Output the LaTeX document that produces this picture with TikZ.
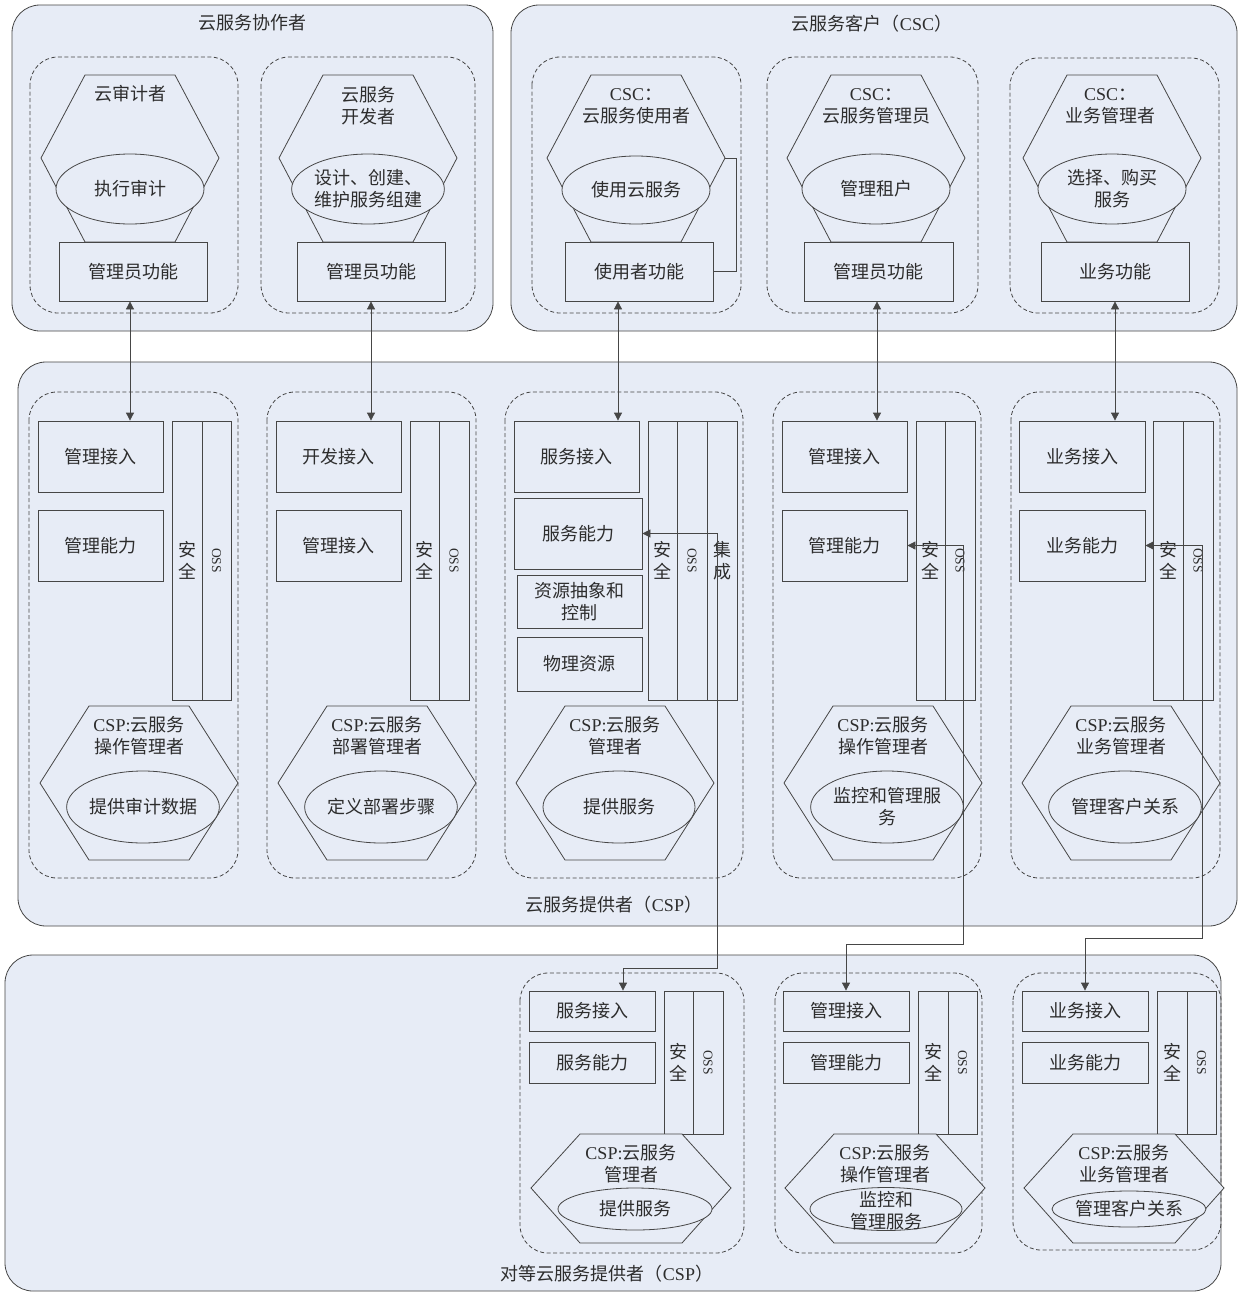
\documentclass[tikz,border=0pt]{standalone}
\usepackage{fontspec}
\setmainfont{Noto Sans CJK SC}
\newfontfamily\latf{Liberation Serif}
\usetikzlibrary{arrows.meta,shapes.geometric,calc}
\definecolor{bgc}{RGB}{231,236,246}
\definecolor{linec}{RGB}{70,70,70}
\definecolor{txtc}{RGB}{45,45,45}
\newcommand\mybox[6]{\node[rbox, minimum width={(#4-#2)*1pt}, minimum height={(#5-#3)*1pt}] (#1) at ({(#2+#4)/2},{(#3+#5)/2}) {#6};}
\newcommand\myhex[6]{\draw[hexs] ({#1-#5},#2) -- ({#1+#5},#2) -- ({#1+#6},#3) -- ({#1+#5},#4) -- ({#1-#5},#4) -- ({#1-#6},#3) -- cycle;}
\newcommand\secbox[8]{%
  \mybox{#1a}{#2}{#5}{#3}{#6}{}%
  \mybox{#1b}{#3}{#5}{#4}{#6}{}%
  \node[txt] (#1at) at (#1a) {安\\全};%
  \node[txt, font=\latf\fontsize{13.5}{15}\selectfont, rotate=-90] (#1bt) at (#1b) {OSS};}
\begin{document}
\begin{tikzpicture}[x=1pt,y=-1pt,
  ln/.style={draw=linec, line width=0.8pt},
  grp/.style={ln, fill=bgc, rounded corners=28pt},
  dbox/.style={ln, dash pattern=on 4pt off 2.5pt, rounded corners=28pt},
  txt/.style={text=txtc, font=\fontsize{18}{22}\selectfont, align=center, inner sep=0pt},
  rbox/.style={ln, fill=bgc, txt, inner sep=0pt},
  hexs/.style={ln, fill=bgc},
  ell/.style={ellipse, ln, fill=bgc, txt, inner sep=0pt},
  dbl/.style={ln, {Triangle[length=8pt,width=8pt]}-{Triangle[length=8pt,width=8pt]}},
]
\useasboundingbox (0,0) rectangle (1245,1293);
\fill[white] (0,0) rectangle (1245,1293);

% ---------- groups ----------
\draw[grp] (12,5) rectangle (493,331);
\draw[grp] (511,5) rectangle (1237,331);
\draw[grp] (18,362) rectangle (1237,926);
\draw[grp] (5,955) rectangle (1221,1291);

\node[txt] (g1) at (252,23) {云服务协作者};
\node[txt] (g2) at (872,24) {云服务客户（{\latf CSC}）};
\node[txt] (g3) at (614,905) {云服务提供者（{\latf CSP}）};
\node[txt] (g4) at (607,1274) {对等云服务提供者（{\latf CSP}）};

% ---------- dashed boxes ----------
\draw[dbox] (30,57) rectangle (238,313);
\draw[dbox] (261,57) rectangle (475,313);
\draw[dbox] (532,57) rectangle (741,313);
\draw[dbox] (767,57) rectangle (978,313);
\draw[dbox] (1010,58) rectangle (1219,313);

\draw[dbox] (29,392) rectangle (238,878);
\draw[dbox] (267,392) rectangle (476,878);
\draw[dbox] (505,392) rectangle (743,878);
\draw[dbox] (773,392) rectangle (981,878);
\draw[dbox] (1011,392) rectangle (1220,878);

\draw[dbox] (520,973) rectangle (744,1253);
\draw[dbox] (775,973) rectangle (982,1253);
\draw[dbox] (1013,973) rectangle (1221,1250);

% ---------- top row ----------
\myhex{130}{75}{158}{242}{45}{89}
\myhex{368}{75}{158}{242}{45}{89}
\myhex{636}{75}{158}{242}{45}{89}
\myhex{876}{75}{158}{242}{45}{89}
\myhex{1112}{75}{158}{242}{45}{89}

\node[txt] (h1t) at (130,94) {云审计者};
\node[txt] (h2t) at (368,106) {云服务\\开发者};
\node[txt] (h3t) at (636,106) {{\latf CSC}：\\云服务使用者};
\node[txt] (h4t) at (876,106) {{\latf CSC}：\\云服务管理员};
\node[txt] (h5t) at (1110,106) {{\latf CSC}：\\业务管理者};

\node[ell, minimum width=148pt, minimum height=70pt] (e1) at (130,189) {执行审计};
\node[ell, minimum width=150pt, minimum height=70pt] (e2) at (368,189) {设计、创建、\\维护服务组建};
\node[ell, minimum width=148pt, minimum height=68pt] (e3) at (636,190) {使用云服务};
\node[ell, minimum width=148pt, minimum height=70pt] (e4) at (876,189) {管理租户};
\node[ell, minimum width=148pt, minimum height=70pt] (e5) at (1112,189) {选择、购买\\服务};

\mybox{t1}{59}{242}{207}{301}{管理员功能}
\mybox{t2}{297}{242}{445}{301}{管理员功能}
\mybox{t3}{565}{242}{713}{301}{使用者功能}
\mybox{t4}{804}{242}{953}{301}{管理员功能}
\mybox{t5}{1041}{242}{1189}{301}{业务功能}

% ---------- middle row ----------
\mybox{m1a}{38}{421}{163}{492}{管理接入}
\mybox{m1b}{38}{510}{163}{581}{管理能力}
\secbox{s1}{172}{202}{231}{421}{700}{}{}

\mybox{m2a}{276}{421}{401}{492}{开发接入}
\mybox{m2b}{276}{510}{401}{581}{管理接入}
\secbox{s2}{410}{439}{469}{421}{700}{}{}

\mybox{m3a}{514}{421}{639}{492}{服务接入}
\mybox{m3b}{514}{498}{642}{569}{服务能力}
\mybox{m3c}{517}{575}{642}{628}{资源抽象和\\控制}
\mybox{m3d}{517}{637}{642}{691}{物理资源}
\secbox{s3}{648}{677}{707}{421}{700}{}{}
\mybox{s3c}{707}{421}{737}{700}{集\\成}

\mybox{m4a}{782}{421}{907}{492}{管理接入}
\mybox{m4b}{782}{510}{907}{581}{管理能力}
\secbox{s4}{916}{945}{975}{421}{700}{}{}

\mybox{m5a}{1019}{421}{1145}{492}{业务接入}
\mybox{m5b}{1019}{510}{1145}{581}{业务能力}
\secbox{s5}{1153}{1183}{1213}{421}{700}{}{}

\myhex{139}{706}{783}{860}{50}{99}
\myhex{377}{706}{783}{860}{50}{99}
\myhex{615}{706}{783}{860}{50}{99}
\myhex{883}{706}{783}{860}{50}{99}
\myhex{1121}{706}{783}{860}{50}{99}

\node[txt] (k1t) at (139,736) {{\latf CSP:}云服务\\操作管理者};
\node[txt] (k2t) at (377,736) {{\latf CSP:}云服务\\部署管理者};
\node[txt] (k3t) at (615,736) {{\latf CSP:}云服务\\管理者};
\node[txt] (k4t) at (883,736) {{\latf CSP:}云服务\\操作管理者};
\node[txt] (k5t) at (1121,736) {{\latf CSP:}云服务\\业务管理者};

\node[ell, minimum width=152pt, minimum height=72pt] (f1) at (143,807) {提供审计数据};
\node[ell, minimum width=152pt, minimum height=72pt] (f2) at (381,807) {定义部署步骤};
\node[ell, minimum width=152pt, minimum height=72pt] (f3) at (619,807) {提供服务};
\node[ell, minimum width=152pt, minimum height=72pt] (f4) at (887,807) {监控和管理服\\务};
\node[ell, minimum width=152pt, minimum height=72pt] (f5) at (1125,807) {管理客户关系};

% ---------- bottom row ----------
\mybox{b1a}{529}{991}{655}{1031}{服务接入}
\mybox{b1b}{529}{1042}{655}{1083}{服务能力}
\secbox{u1}{664}{693}{723}{991}{1134}{}{}

\mybox{b2a}{783}{991}{909}{1031}{管理接入}
\mybox{b2b}{783}{1042}{909}{1083}{管理能力}
\secbox{u2}{918}{948}{977}{991}{1134}{}{}

\mybox{b3a}{1022}{991}{1148}{1031}{业务接入}
\mybox{b3b}{1022}{1042}{1148}{1083}{业务能力}
\secbox{u3}{1157}{1187}{1216}{991}{1134}{}{}

\myhex{631}{1134}{1188}{1243}{51}{100}
\myhex{885}{1134}{1188}{1243}{51}{100}
\myhex{1124}{1134}{1188}{1243}{51}{100}

\node[txt] (p1t) at (631,1164) {{\latf CSP:}云服务\\管理者};
\node[txt] (p2t) at (885,1164) {{\latf CSP:}云服务\\操作管理者};
\node[txt] (p3t) at (1124,1164) {{\latf CSP:}云服务\\业务管理者};

\node[ell, minimum width=154pt, minimum height=42pt] (q1) at (635,1209) {提供服务};
\node[ell, minimum width=152pt, minimum height=43pt] (q2) at (886,1209) {};
\node[txt] (q2t) at (886,1211) {监控和\\管理服务};
\node[ell, minimum width=154pt, minimum height=36pt] (q3) at (1129,1209) {管理客户关系};

% ---------- connectors ----------
\coordinate (ax1) at (130,0);
\coordinate (ax2) at (371,0);
\coordinate (ax3) at (618,0);
\coordinate (ax4) at (877,0);
\coordinate (ax5) at (1115,0);
\draw[dbl] (t1.south -| ax1) -- (m1a.north -| ax1);
\draw[dbl] (t2.south -| ax2) -- (m2a.north -| ax2);
\draw[dbl] (t3.south -| ax3) -- (m3a.north -| ax3);
\draw[dbl] (t4.south -| ax4) -- (m4a.north -| ax4);
\draw[dbl] (t5.south -| ax5) -- (m5a.north -| ax5);

\coordinate (h3r) at (725,158);
\coordinate (brk) at (736,271.5);
\draw[ln] (h3r) -| (brk) -- (t3.east);

\coordinate (c1) at (717,968);
\coordinate (c1b) at (623,968);
\draw[dbl] (m3b.east) -| (c1) -- (c1b) -- (c1b |- b1a.north);
\coordinate (c2) at (963,944);
\coordinate (c2b) at (846,944);
\draw[dbl] (m4b.east) -| (c2) -- (c2b) -- (c2b |- b2a.north);
\coordinate (c3) at (1202,938);
\coordinate (c3b) at (1085,938);
\draw[dbl] (m5b.east) -| (c3) -- (c3b) -- (c3b |- b3a.north);
\end{tikzpicture}
\end{document}
